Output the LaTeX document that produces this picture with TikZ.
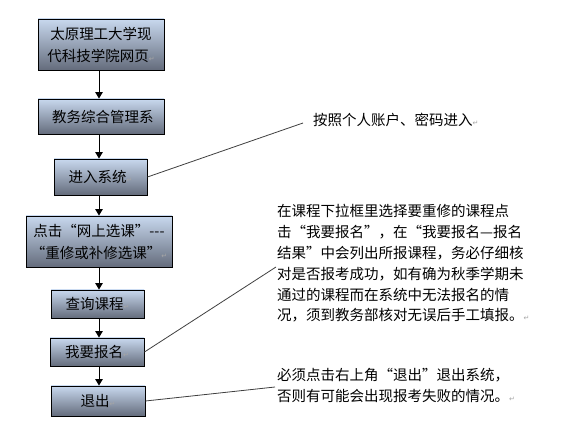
\documentclass[tikz,border=0pt]{standalone}
\usepackage{fontspec}
\setmainfont{Noto Sans CJK SC}
\newfontfamily\markfont{DejaVu Sans}
\usetikzlibrary{
    arrows.meta,
    positioning
}
\definecolor{boxtop}{HTML}{C8D8EE}
\definecolor{boxbottom}{HTML}{646C7C}
\definecolor{leader}{HTML}{404040}
% paragraph mark left over from the word processor
\newcommand{\parmark}{{\markfont\fontsize{7}{7}\selectfont\color{gray!70}↵}}
\tikzset{
    % --- Step box (shaded rectangle of the flow) ---
    stepbox/.style = {
        rectangle, draw=black, line width=0.9pt,
        top color=boxtop, bottom color=boxbottom,
        inner sep=0pt, align=center,
        font=\fontsize{14.5}{22}\selectfont
    },
    % --- Flow arrow between steps ---
    flow/.style = {
        -{Triangle[length=6.5pt,width=7.5pt]}, line width=1pt, black
    },
    % --- Leader line from a step to its note ---
    leader line/.style = {
        line width=0.8pt, leader
    },
    % --- Note text beside the flow ---
    note/.style = {
        anchor=north west, inner sep=0pt, align=left,
        font=\fontsize{14.5}{20.9}\selectfont
    }
}

\begin{document}
\begin{tikzpicture}[x=1pt, y=-1pt]
\useasboundingbox[fill=white] (0,0) rectangle (574,441);

% ---------------------------------------------------------
% Steps of the flow
% ---------------------------------------------------------
\node[stepbox, minimum width=126pt, minimum height=51pt] (web) at (101,44.5)
    {太原理工大学现\\代科技学院网页\parmark};
\node[stepbox, minimum width=126pt, minimum height=35pt] (jwxt) at (101,116.5)
    {\hspace{4pt}教务综合管理系};
\node[stepbox, minimum width=93pt, minimum height=36pt] (login) at (100.5,177)
    {进入系统\parmark};
\node[stepbox, minimum width=146pt, minimum height=51pt] (select) at (99,241.5)
    {点击“网上选课”-{}-{}-\\“重修或补修选课”\parmark};
\node[stepbox, minimum width=93pt, minimum height=28pt] (query) at (97.5,304)
    {查询课程\parmark};
\node[stepbox, minimum width=94pt, minimum height=28pt] (apply) at (97,352)
    {我要报名\parmark};
\node[stepbox, minimum width=94pt, minimum height=30pt] (quit) at (98,401)
    {退出\parmark};

% ---------------------------------------------------------
% Flow arrows
% ---------------------------------------------------------
\foreach \a/\b in {web/jwxt, jwxt/login, login/select, select/query, query/apply, apply/quit} {
    \draw[flow] (\a.south -| 99,0) -- (\b.north -| 99,0);
}

% ---------------------------------------------------------
% Notes and leader lines
% ---------------------------------------------------------
\node[note] (note1) at (313,113) {按照个人账户、密码进入\parmark};
\coordinate (tip1) at (303,123);
\draw[leader line] (login.east) -- (tip1);

\node[note] (note2) at (277,204) {%
    在课程下拉框里选择要重修的课程点\\
    击“我要报名”，在“我要报名—报名\\
    结果”中会列出所报课程，务必仔细核\\
    对是否报考成功，如有确为秋季学期未\\
    通过的课程而在系统中无法报名的情\\
    况，须到教务部核对无误后手工填报。\parmark};
\coordinate (tip2) at (276,267);
\draw[leader line] (apply.east) -- (tip2);

\node[note] (note3) at (277,368) {%
    必须点击右上角“退出”退出系统，\\
    否则有可能会出现报考失败的情况。\parmark};
\coordinate (tip3) at (275,387);
\draw[leader line] (quit.east) -- (tip3);

\end{tikzpicture}
\end{document}
